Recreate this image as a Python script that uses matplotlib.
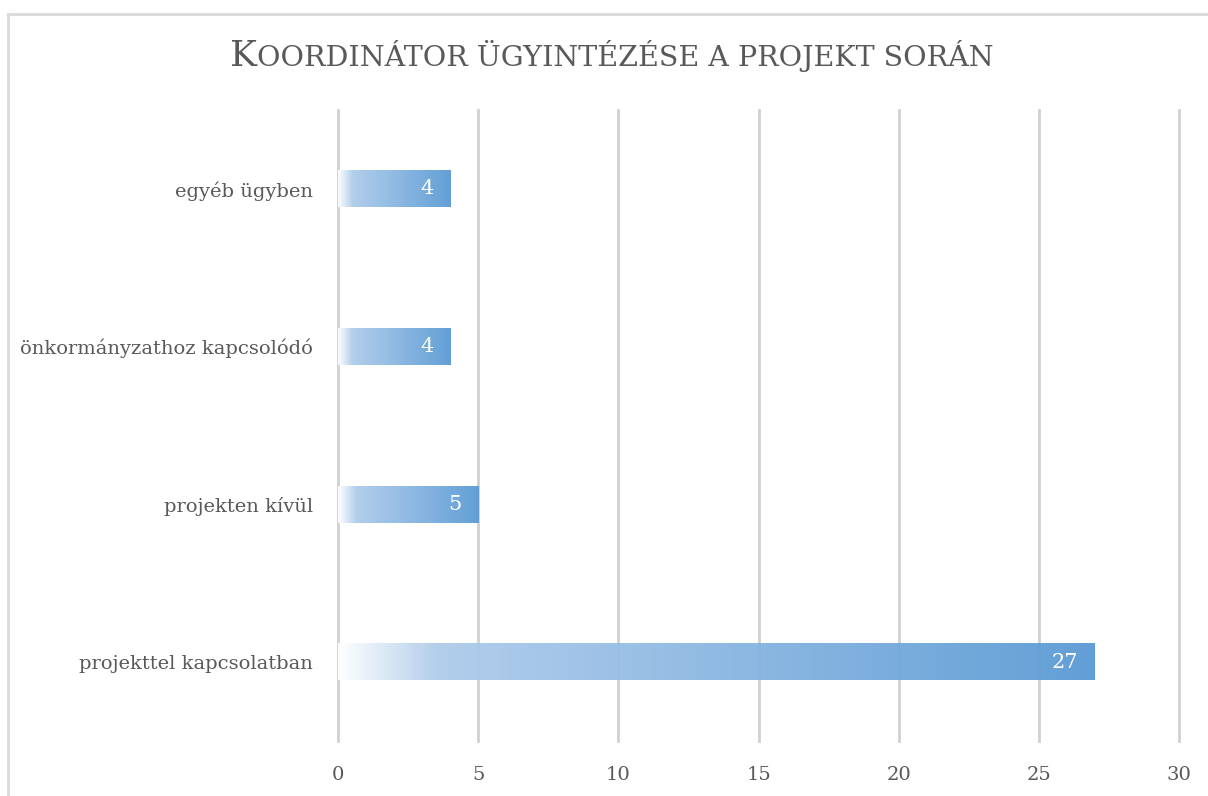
import matplotlib.pyplot as plt
import numpy as np
from matplotlib.colors import LinearSegmentedColormap

categories = ["projekttel kapcsolatban", "projekten kívül",
              "önkormányzathoz kapcsolódó", "egyéb ügyben"]
values = [27, 5, 4, 4]
xticks = [0, 5, 10, 15, 20, 25, 30]

plt.rcParams['font.family'] = ['DejaVu Serif']

fig = plt.figure(figsize=(12.08, 7.96), dpi=100)
ax = fig.add_axes([0.2798, 0.0691, 0.6962, 0.7927])

# chart border (only left and top visible in the crop)
fig.add_artist(plt.Line2D([0.0066, 0.0066], [0, 0.9824], transform=fig.transFigure,
                          color='#d9d9d9', lw=2))
fig.add_artist(plt.Line2D([0.0066, 1], [0.9824, 0.9824], transform=fig.transFigure,
                          color='#d9d9d9', lw=2))

cmap = LinearSegmentedColormap.from_list(
    'grad', [(0, '#ffffff'), (0.13, '#afcceb'), (1, '#5b9bd5')])
grad = np.linspace(0, 1, 256).reshape(1, -1)
bar_h = 0.23

ypos = np.arange(len(categories))
for y, v in zip(ypos, values):
    ax.imshow(grad, cmap=cmap, aspect='auto', interpolation='bicubic', alpha=0.96,
              extent=[0, v, y - bar_h / 2, y + bar_h / 2], zorder=3)
    ax.annotate(str(v), (v, y), xytext=(-12, 0), textcoords='offset points',
                ha='right', va='center', color='white', fontsize=15, zorder=4)

for t in xticks:
    ax.axvline(t, color='#d0d0d0', lw=2, zorder=1, clip_on=False)

ax.set_xlim(0, 30)
ax.set_ylim(-0.5, 3.5)
ax.set_xticks(xticks)
ax.set_yticks(ypos)
ax.set_yticklabels(categories)
ax.tick_params(axis='both', length=0, labelsize=14, labelcolor='#595959')
ax.tick_params(axis='y', pad=18)
ax.tick_params(axis='x', pad=18)
for s in ax.spines.values():
    s.set_visible(False)

# title in small caps
fig.text(0.213, 0.917, "K", fontsize=26, color='#595959', ha='right', va='baseline')
fig.text(0.213, 0.917, "OORDINÁTOR ÜGYINTÉZÉSE A PROJEKT SORÁN", fontsize=20.5,
         color='#595959', ha='left', va='baseline')

fig.savefig('out.png', dpi=100)
